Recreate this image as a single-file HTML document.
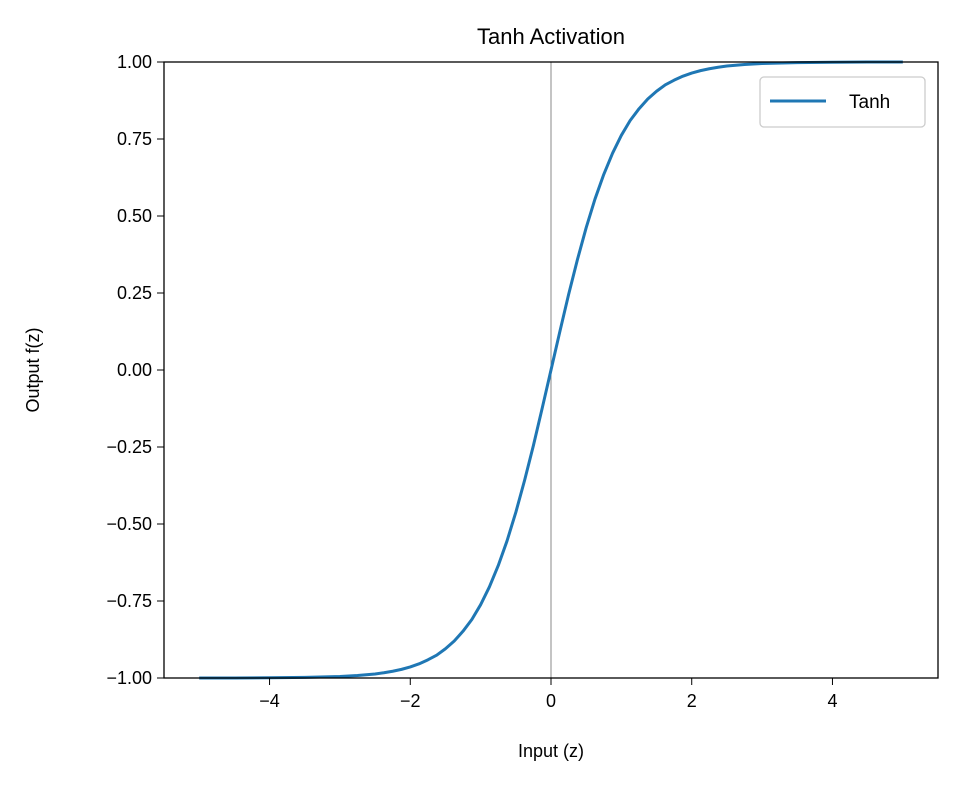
<!DOCTYPE html>
<html><head><meta charset="utf-8"><style>
body{margin:0;background:#fff;}
svg{display:block;font-family:"Liberation Sans","DejaVu Sans",sans-serif;}
</style></head><body>
<svg id="chart" width="958" height="785" viewBox="0 0 958 785" xmlns="http://www.w3.org/2000/svg">
<rect width="958" height="785" fill="#fff"/>
<text x="551" y="44" font-size="22" text-anchor="middle">Tanh Activation</text>
<g id="grid"></g>
<g id="series"></g>
<rect x="164" y="62" width="774" height="616" fill="none" stroke="#000" stroke-width="1.3"/>
<g id="ticks"></g>
<text x="551" y="757" font-size="18" text-anchor="middle">Input (z)</text>
<text x="39" y="370" font-size="18" text-anchor="middle" transform="rotate(-90 39 370)">Output f(z)</text>
<g>
<rect x="760" y="77" width="165" height="50" rx="4" fill="#fff" stroke="#ccc" stroke-width="1.3"/>
<line x1="770" y1="101" x2="826" y2="101" stroke="#1f77b4" stroke-width="3"/>
<text x="849" y="108" font-size="19">Tanh</text>
</g>
</svg>
<script>
const xTicks=[-4,-2,0,2,4];
const xTickLabels=["\u22124","\u22122","0","2","4"];
const yTicks=[-1,-0.75,-0.5,-0.25,0,0.25,0.5,0.75,1];
const yTickLabels=["\u22121.00","\u22120.75","\u22120.50","\u22120.25","0.00","0.25","0.50","0.75","1.00"];
const zValues=[-5,-4.5,-4,-3.5,-3,-2.75,-2.5,-2.375,-2.25,-2.125,-2,-1.875,-1.75,-1.625,-1.5,-1.375,-1.25,-1.125,-1,-0.875,-0.75,-0.625,-0.5,-0.375,-0.25,-0.125,0,0.125,0.25,0.375,0.5,0.625,0.75,0.875,1,1.125,1.25,1.375,1.5,1.625,1.75,1.875,2,2.125,2.25,2.375,2.5,2.75,3,3.5,4,4.5,5];
const outValues=[-0.9999,-0.9998,-0.9993,-0.998,-0.995,-0.992,-0.987,-0.983,-0.978,-0.972,-0.964,-0.954,-0.941,-0.926,-0.905,-0.880,-0.848,-0.810,-0.762,-0.704,-0.635,-0.555,-0.462,-0.358,-0.245,-0.124,0,0.124,0.245,0.358,0.462,0.555,0.635,0.704,0.762,0.810,0.848,0.880,0.905,0.926,0.941,0.954,0.964,0.972,0.978,0.983,0.987,0.992,0.995,0.998,0.9993,0.9998,0.9999];
const NS="http://www.w3.org/2000/svg";
const X0=164,X1=938,Y0=62,Y1=678,xmin=-5.5,xmax=5.5,ymin=-1,ymax=1;
function sx(v){return X0+(v-xmin)/(xmax-xmin)*(X1-X0);}
function sy(v){return Y1-(v-ymin)/(ymax-ymin)*(Y1-Y0);}
const grid=document.getElementById('grid'),ticks=document.getElementById('ticks'),series=document.getElementById('series');
const vl=document.createElementNS(NS,'line');


vl.setAttribute('x1',sx(0));vl.setAttribute('x2',sx(0));vl.setAttribute('y1',Y0);vl.setAttribute('y2',Y1);
vl.setAttribute('stroke','#888');vl.setAttribute('stroke-width','1');
grid.appendChild(vl);
xTicks.forEach((t,i)=>{
const l=document.createElementNS(NS,'line');


l.setAttribute('x1',sx(t));l.setAttribute('x2',sx(t));l.setAttribute('y1',Y1);l.setAttribute('y2',Y1+7);l.setAttribute('stroke','#000');
ticks.appendChild(l);
const tx=document.createElementNS(NS,'text');


tx.setAttribute('x',sx(t));tx.setAttribute('y',Y1+29);tx.setAttribute('font-size','18');tx.setAttribute('text-anchor','middle');
tx.textContent=xTickLabels[i];ticks.appendChild(tx);
});
yTicks.forEach((t,i)=>{
const l=document.createElementNS(NS,'line');


l.setAttribute('x1',X0-7);l.setAttribute('x2',X0);l.setAttribute('y1',sy(t));l.setAttribute('y2',sy(t));l.setAttribute('stroke','#000');
ticks.appendChild(l);
const tx=document.createElementNS(NS,'text');


tx.setAttribute('x',X0-12);tx.setAttribute('y',sy(t)+6);tx.setAttribute('font-size','18');tx.setAttribute('text-anchor','end');
tx.textContent=yTickLabels[i];ticks.appendChild(tx);
});
const p=document.createElementNS(NS,'path');


p.setAttribute('d',zValues.map((z,i)=>(i?'L':'M')+sx(z).toFixed(2)+','+sy(outValues[i]).toFixed(2)).join(' '));
p.setAttribute('fill','none');p.setAttribute('stroke','#1f77b4');p.setAttribute('stroke-width','3');p.setAttribute('stroke-linejoin','round');
series.appendChild(p);
</script>
</body></html>
